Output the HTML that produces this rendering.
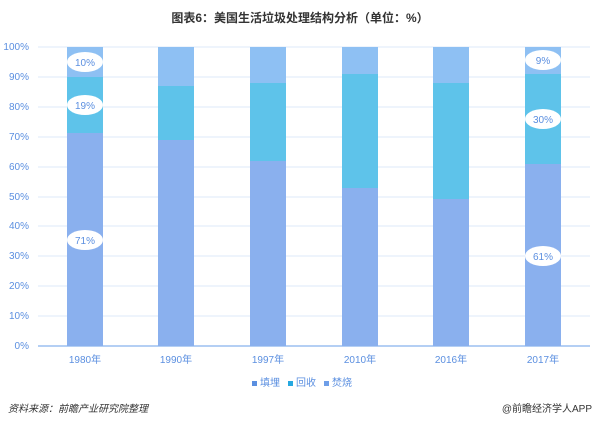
<!DOCTYPE html>
<html><head><meta charset="utf-8"><style>
body{margin:0;background:#fff;width:600px;height:425px;overflow:hidden;font-family:"Liberation Sans","Noto Sans CJK SC",sans-serif}
</style></head><body>
<svg width="600" height="425" xmlns="http://www.w3.org/2000/svg" font-family="Liberation Sans, Noto Sans CJK SC, sans-serif">
<text x="300" y="22" text-anchor="middle" font-size="12" font-weight="bold" fill="#333">图表6：美国生活垃圾处理结构分析（单位：%）</text>
<g stroke="#dde8fa" stroke-width="1">
<line x1="38" x2="590" y1="47" y2="47"/><line x1="38" x2="590" y1="77" y2="77"/><line x1="38" x2="590" y1="107" y2="107"/><line x1="38" x2="590" y1="137" y2="137"/><line x1="38" x2="590" y1="167" y2="167"/><line x1="38" x2="590" y1="197" y2="197"/><line x1="38" x2="590" y1="226" y2="226"/><line x1="38" x2="590" y1="256" y2="256"/><line x1="38" x2="590" y1="286" y2="286"/><line x1="38" x2="590" y1="316" y2="316"/>
</g>
<line x1="38" x2="590" y1="346" y2="346" stroke="#9cbff0" stroke-width="1.5"/>
<g font-size="10" fill="#5b8fe0" text-anchor="end">
<text x="29" y="50">100%</text><text x="29" y="80">90%</text><text x="29" y="110">80%</text><text x="29" y="140">70%</text><text x="29" y="170">60%</text><text x="29" y="200">50%</text><text x="29" y="229">40%</text><text x="29" y="259">30%</text><text x="29" y="289">20%</text><text x="29" y="319">10%</text><text x="29" y="349">0%</text>
</g>
<g id="bars">
<!-- scale: 2.99 px per % -->
<rect x="67" y="47" width="36" height="30" fill="#8ec0f3"/><rect x="67" y="77" width="36" height="56" fill="#5ec3ea"/><rect x="67" y="133" width="36" height="213" fill="#8ab0ee"/>
<rect x="158" y="47" width="36" height="39" fill="#8ec0f3"/><rect x="158" y="86" width="36" height="54" fill="#5ec3ea"/><rect x="158" y="140" width="36" height="206" fill="#8ab0ee"/>
<rect x="250" y="47" width="36" height="36" fill="#8ec0f3"/><rect x="250" y="83" width="36" height="78" fill="#5ec3ea"/><rect x="250" y="161" width="36" height="185" fill="#8ab0ee"/>
<rect x="342" y="47" width="36" height="27" fill="#8ec0f3"/><rect x="342" y="74" width="36" height="114" fill="#5ec3ea"/><rect x="342" y="188" width="36" height="158" fill="#8ab0ee"/>
<rect x="433" y="47" width="36" height="36" fill="#8ec0f3"/><rect x="433" y="83" width="36" height="116" fill="#5ec3ea"/><rect x="433" y="199" width="36" height="147" fill="#8ab0ee"/>
<rect x="525" y="47" width="36" height="27" fill="#8ec0f3"/><rect x="525" y="74" width="36" height="90" fill="#5ec3ea"/><rect x="525" y="164" width="36" height="182" fill="#8ab0ee"/>
</g>
<g fill="#fff">
<ellipse cx="85" cy="62" rx="18" ry="10"/><ellipse cx="85" cy="105" rx="18" ry="10"/><ellipse cx="85" cy="240" rx="18" ry="10"/>
<ellipse cx="543" cy="60" rx="18" ry="10"/><ellipse cx="543" cy="119" rx="18" ry="10"/><ellipse cx="543" cy="256" rx="18" ry="10"/>
</g>
<g font-size="10" fill="#5b8fe0" text-anchor="middle">
<text x="85" y="66">10%</text><text x="85" y="109">19%</text><text x="85" y="244">71%</text>
<text x="543" y="64">9%</text><text x="543" y="123">30%</text><text x="543" y="260">61%</text>
<text x="85" y="363">1980年</text><text x="176" y="363">1990年</text><text x="268" y="363">1997年</text><text x="360" y="363">2010年</text><text x="451" y="363">2016年</text><text x="543" y="363">2017年</text>
</g>
<g font-size="10" fill="#5b8fe0">
<rect x="252" y="381" width="5" height="5" fill="#5b8fe0"/><text x="260" y="386">填埋</text>
<rect x="288" y="381" width="5" height="5" fill="#26a8e0"/><text x="296" y="386">回收</text>
<rect x="324" y="381" width="5" height="5" fill="#6e9ee8"/><text x="332" y="386">焚烧</text>
</g>
<text x="8" y="412" font-size="10" font-style="italic" fill="#333">资料来源：前瞻产业研究院整理</text>
<text x="592" y="412" font-size="10" fill="#333" text-anchor="end">@前瞻经济学人APP</text>
</svg>
</body></html>
